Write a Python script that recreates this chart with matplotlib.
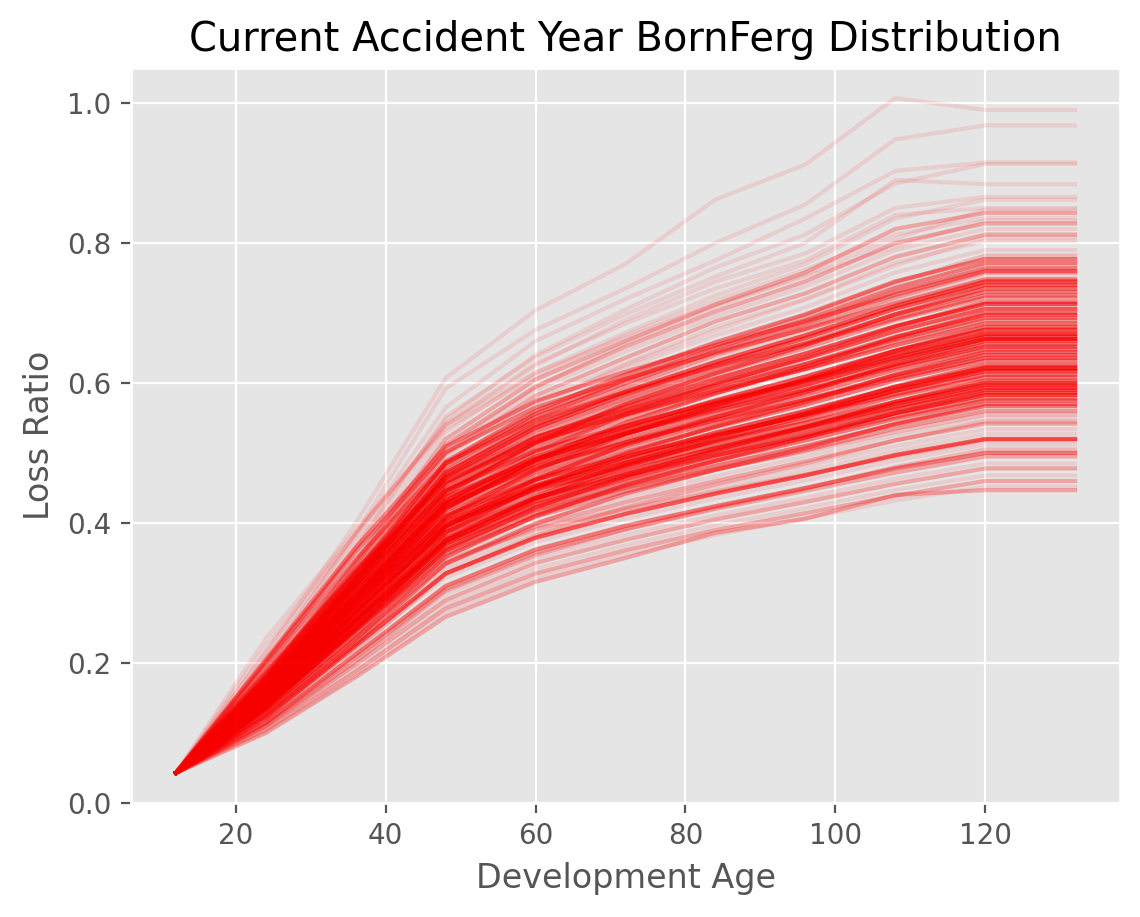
import matplotlib
matplotlib.use("Agg")
import matplotlib.pyplot as plt

plt.style.use("ggplot")

# development ages (months)
ages = [12, 24, 36, 48, 60, 72, 84, 96, 108, 120, 132]
first_lr = 0.043  # every simulation starts from the same reported value

# simulated loss ratio paths for ages 24..132
paths = [
    [0.215, 0.400, 0.607, 0.704, 0.770, 0.862, 0.912, 1.007, 0.990, 0.990],
    [0.200, 0.385, 0.592, 0.676, 0.735, 0.800, 0.855, 0.948, 0.968, 0.968],
    [0.205, 0.380, 0.565, 0.660, 0.720, 0.775, 0.835, 0.903, 0.915, 0.915],
    [0.190, 0.372, 0.548, 0.640, 0.705, 0.765, 0.812, 0.885, 0.913, 0.913],
    [0.198, 0.365, 0.552, 0.637, 0.698, 0.752, 0.800, 0.890, 0.884, 0.884],
    [0.190, 0.362, 0.540, 0.625, 0.690, 0.745, 0.785, 0.850, 0.866, 0.866],
    [0.185, 0.350, 0.530, 0.615, 0.672, 0.725, 0.770, 0.835, 0.862, 0.862],
    [0.225, 0.385, 0.542, 0.628, 0.685, 0.735, 0.775, 0.840, 0.850, 0.850],
    [0.180, 0.345, 0.520, 0.605, 0.660, 0.712, 0.758, 0.820, 0.843, 0.843],
    [0.235, 0.390, 0.535, 0.610, 0.668, 0.718, 0.762, 0.812, 0.836, 0.836],
    [0.178, 0.342, 0.512, 0.595, 0.652, 0.702, 0.745, 0.800, 0.828, 0.828],
    [0.182, 0.338, 0.505, 0.590, 0.645, 0.695, 0.738, 0.790, 0.820, 0.820],
    [0.176, 0.335, 0.500, 0.582, 0.636, 0.688, 0.728, 0.780, 0.812, 0.812],
    [0.172, 0.330, 0.495, 0.575, 0.628, 0.680, 0.720, 0.772, 0.803, 0.803],
    [0.178, 0.336, 0.498, 0.572, 0.622, 0.668, 0.708, 0.758, 0.790, 0.790],
    [0.170, 0.326, 0.488, 0.560, 0.612, 0.658, 0.698, 0.745, 0.777, 0.777],
    [0.175, 0.330, 0.485, 0.556, 0.605, 0.650, 0.690, 0.736, 0.771, 0.771],
    [0.168, 0.322, 0.480, 0.552, 0.600, 0.645, 0.684, 0.730, 0.764, 0.764],
    [0.172, 0.318, 0.474, 0.546, 0.595, 0.640, 0.678, 0.722, 0.758, 0.758],
    [0.165, 0.315, 0.470, 0.542, 0.590, 0.634, 0.672, 0.716, 0.752, 0.752],
    [0.170, 0.320, 0.472, 0.540, 0.588, 0.630, 0.668, 0.710, 0.745, 0.745],
    [0.168, 0.316, 0.466, 0.536, 0.584, 0.626, 0.664, 0.706, 0.740, 0.740],
    [0.172, 0.318, 0.465, 0.532, 0.578, 0.620, 0.657, 0.698, 0.730, 0.730],
    [0.165, 0.310, 0.458, 0.526, 0.572, 0.613, 0.650, 0.690, 0.722, 0.722],
    [0.170, 0.312, 0.455, 0.522, 0.566, 0.606, 0.642, 0.681, 0.713, 0.713],
    [0.162, 0.305, 0.448, 0.515, 0.560, 0.600, 0.635, 0.674, 0.706, 0.706],
    [0.168, 0.306, 0.445, 0.510, 0.554, 0.592, 0.627, 0.666, 0.697, 0.697],
    [0.160, 0.300, 0.438, 0.504, 0.548, 0.586, 0.620, 0.659, 0.690, 0.690],
    [0.165, 0.298, 0.432, 0.495, 0.538, 0.575, 0.609, 0.646, 0.676, 0.676],
    [0.162, 0.295, 0.428, 0.490, 0.533, 0.570, 0.603, 0.640, 0.670, 0.670],
    [0.160, 0.292, 0.422, 0.485, 0.527, 0.564, 0.597, 0.633, 0.663, 0.663],
    [0.158, 0.288, 0.418, 0.478, 0.520, 0.557, 0.590, 0.626, 0.655, 0.655],
    [0.156, 0.285, 0.412, 0.473, 0.515, 0.551, 0.583, 0.619, 0.648, 0.648],
    [0.155, 0.282, 0.406, 0.467, 0.509, 0.544, 0.576, 0.611, 0.640, 0.640],
    [0.152, 0.278, 0.402, 0.461, 0.502, 0.537, 0.569, 0.604, 0.632, 0.632],
    [0.150, 0.274, 0.395, 0.454, 0.494, 0.529, 0.560, 0.594, 0.622, 0.622],
    [0.148, 0.270, 0.392, 0.450, 0.490, 0.524, 0.555, 0.589, 0.617, 0.617],
    [0.146, 0.268, 0.386, 0.444, 0.483, 0.517, 0.547, 0.581, 0.608, 0.608],
    [0.144, 0.262, 0.379, 0.436, 0.474, 0.507, 0.537, 0.570, 0.597, 0.597],
    [0.142, 0.260, 0.375, 0.431, 0.469, 0.502, 0.531, 0.563, 0.590, 0.590],
    [0.140, 0.256, 0.370, 0.426, 0.463, 0.496, 0.525, 0.557, 0.583, 0.583],
    [0.138, 0.252, 0.365, 0.420, 0.457, 0.489, 0.518, 0.549, 0.575, 0.575],
    [0.136, 0.248, 0.360, 0.414, 0.451, 0.482, 0.510, 0.541, 0.567, 0.567],
    [0.134, 0.246, 0.356, 0.409, 0.445, 0.476, 0.504, 0.535, 0.560, 0.560],
    [0.130, 0.240, 0.348, 0.400, 0.437, 0.467, 0.495, 0.525, 0.550, 0.550],
    [0.128, 0.236, 0.342, 0.395, 0.430, 0.460, 0.488, 0.518, 0.542, 0.542],
    [0.126, 0.232, 0.338, 0.390, 0.424, 0.454, 0.481, 0.510, 0.534, 0.534],
    [0.124, 0.228, 0.332, 0.384, 0.418, 0.448, 0.474, 0.503, 0.527, 0.527],
    [0.122, 0.225, 0.328, 0.379, 0.413, 0.442, 0.468, 0.497, 0.520, 0.520],
    [0.120, 0.222, 0.322, 0.373, 0.406, 0.435, 0.461, 0.489, 0.512, 0.512],
    [0.115, 0.212, 0.310, 0.362, 0.396, 0.424, 0.450, 0.478, 0.500, 0.500],
    [0.114, 0.208, 0.305, 0.357, 0.391, 0.420, 0.446, 0.472, 0.495, 0.495],
    [0.112, 0.203, 0.298, 0.350, 0.383, 0.411, 0.436, 0.463, 0.485, 0.485],
    [0.110, 0.198, 0.290, 0.343, 0.376, 0.405, 0.430, 0.456, 0.478, 0.478],
    [0.108, 0.192, 0.284, 0.335, 0.368, 0.397, 0.421, 0.447, 0.468, 0.468],
    [0.105, 0.188, 0.278, 0.328, 0.361, 0.390, 0.414, 0.439, 0.460, 0.460],
    [0.102, 0.183, 0.272, 0.322, 0.355, 0.383, 0.407, 0.432, 0.452, 0.452],
    [0.100, 0.180, 0.266, 0.316, 0.350, 0.386, 0.406, 0.440, 0.447, 0.447],
    # paths that report faster or slower early on and cross the others
    [0.205, 0.365, 0.509, 0.574, 0.616, 0.654, 0.688, 0.726, 0.760, 0.760],
    [0.162, 0.294, 0.441, 0.515, 0.570, 0.614, 0.654, 0.698, 0.735, 0.735],
    [0.196, 0.348, 0.486, 0.547, 0.587, 0.624, 0.656, 0.692, 0.725, 0.725],
    [0.154, 0.280, 0.420, 0.490, 0.543, 0.585, 0.623, 0.665, 0.700, 0.700],
    [0.185, 0.329, 0.459, 0.517, 0.555, 0.589, 0.620, 0.654, 0.685, 0.685],
    [0.150, 0.272, 0.408, 0.476, 0.527, 0.568, 0.605, 0.646, 0.680, 0.680],
    [0.180, 0.320, 0.446, 0.503, 0.539, 0.573, 0.603, 0.636, 0.666, 0.666],
    [0.145, 0.264, 0.396, 0.462, 0.512, 0.551, 0.587, 0.627, 0.660, 0.660],
    [0.176, 0.313, 0.437, 0.492, 0.528, 0.561, 0.590, 0.623, 0.652, 0.652],
    [0.142, 0.258, 0.386, 0.451, 0.499, 0.538, 0.573, 0.612, 0.644, 0.644],
    [0.172, 0.305, 0.426, 0.480, 0.515, 0.547, 0.576, 0.607, 0.636, 0.636],
    [0.138, 0.250, 0.376, 0.438, 0.485, 0.523, 0.557, 0.595, 0.626, 0.626],
    [0.165, 0.294, 0.410, 0.462, 0.496, 0.526, 0.554, 0.584, 0.612, 0.612],
    [0.133, 0.241, 0.362, 0.422, 0.467, 0.504, 0.537, 0.573, 0.603, 0.603],
    [0.160, 0.285, 0.397, 0.448, 0.480, 0.510, 0.537, 0.566, 0.593, 0.593],
    [0.129, 0.234, 0.352, 0.410, 0.454, 0.489, 0.522, 0.557, 0.586, 0.586],
    [0.156, 0.277, 0.387, 0.436, 0.468, 0.497, 0.523, 0.552, 0.578, 0.578],
    [0.125, 0.228, 0.342, 0.399, 0.442, 0.476, 0.507, 0.542, 0.570, 0.570],
    [0.150, 0.266, 0.372, 0.419, 0.450, 0.477, 0.502, 0.530, 0.555, 0.555],
    [0.120, 0.218, 0.327, 0.382, 0.422, 0.455, 0.485, 0.518, 0.545, 0.545],
    [0.140, 0.249, 0.347, 0.391, 0.420, 0.445, 0.469, 0.495, 0.518, 0.518],
    [0.111, 0.202, 0.303, 0.354, 0.391, 0.422, 0.449, 0.480, 0.505, 0.505],
    [0.172, 0.313, 0.469, 0.547, 0.606, 0.653, 0.696, 0.743, 0.782, 0.782],
    [0.202, 0.359, 0.501, 0.565, 0.606, 0.643, 0.677, 0.714, 0.748, 0.748],
    [0.158, 0.286, 0.430, 0.501, 0.555, 0.598, 0.637, 0.680, 0.716, 0.716],
    [0.187, 0.333, 0.464, 0.523, 0.561, 0.596, 0.627, 0.662, 0.693, 0.693],
    [0.162, 0.288, 0.402, 0.453, 0.486, 0.516, 0.543, 0.573, 0.600, 0.600],
    [0.136, 0.248, 0.372, 0.434, 0.481, 0.518, 0.552, 0.589, 0.620, 0.620],
    [0.187, 0.339, 0.509, 0.594, 0.657, 0.708, 0.755, 0.806, 0.848, 0.848],
    [0.215, 0.385, 0.540, 0.615, 0.665, 0.712, 0.752, 0.795, 0.832, 0.832],
    [0.178, 0.323, 0.485, 0.566, 0.626, 0.675, 0.719, 0.768, 0.808, 0.808],
]

# how many simulations landed on each path
path_counts = [
    1, 1, 1, 1, 1, 1, 1, 1, 3, 1,
    3, 1, 3, 1, 1, 6, 6, 6, 4, 1,
    9, 9, 6, 4, 10, 9, 6, 4, 10, 13,
    12, 6, 6, 6, 6, 10, 9, 6, 10, 9,
    10, 6, 6, 4, 1, 3, 1, 1, 9, 1,
    6, 3, 1, 3, 1, 3, 1, 3,
    5, 7, 5, 7, 7, 7, 7, 8, 7, 7,
    7, 7, 7, 7, 7, 7, 5, 5, 2, 2,
    2, 2, 2, 5, 5, 5, 7, 7, 1, 1,
    1,
]

fig = plt.figure(figsize=(5.7, 4.585), dpi=200)
ax = fig.add_axes([131 / 1140, 1 - 803 / 917, 989 / 1140, 735 / 917])

for row, n in zip(paths, path_counts):
    for _ in range(n):
        ax.plot(ages, [first_lr] + row, color="red", alpha=0.1)

ax.set_ylim(0, 1.05)
ax.set_title("Current Accident Year BornFerg Distribution")
ax.set_xlabel("Development Age")
ax.set_ylabel("Loss Ratio")

fig.savefig("out.png", dpi=200)
